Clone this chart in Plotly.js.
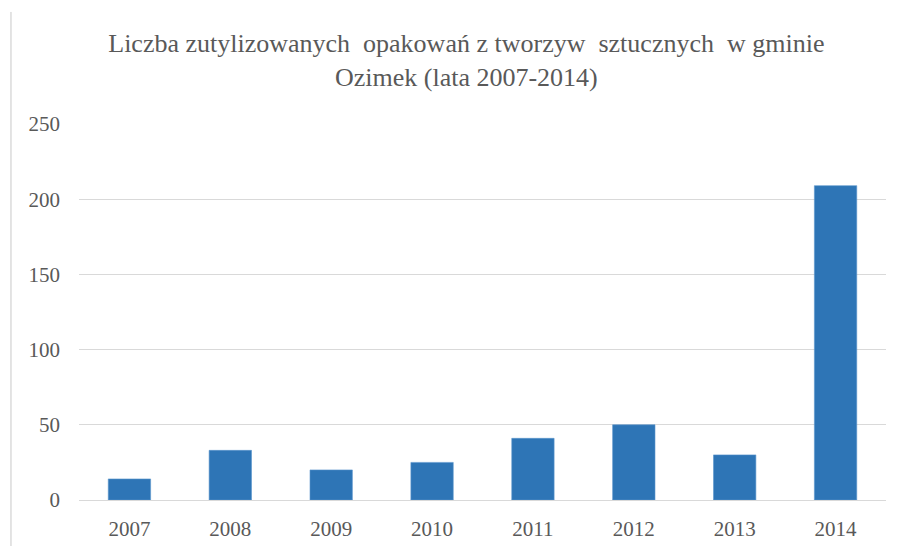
<!DOCTYPE html>
<html><head><meta charset="utf-8">
<script src="https://cdn.plot.ly/plotly-3.0.1.min.js"></script>
<style>html,body{margin:0;padding:0;background:#fff}#chart{width:902px;height:546px}</style>
</head><body><div id="chart"></div>
<script>
const years = ["2007","2008","2009","2010","2011","2012","2013","2014"];
const values = [14, 33, 20, 25, 41, 50, 30, 209];
const yTicks = [0, 50, 100, 150, 200, 250];
const titleText = "Liczba zutylizowanych  opakowań z tworzyw  sztucznych  w gminie<br>Ozimek (lata 2007-2014)";

const serif = "Liberation Serif, Times New Roman, serif";
Plotly.newPlot('chart', [{
  type: 'bar', x: years, y: values,
  marker: {color: '#2E75B6', line: {color: '#5b95cc', width: 0.6}},
  hoverinfo: 'x+y'
}], {
  width: 902, height: 546,
  margin: {l: 79, r: 16, t: 124, b: 46},
  paper_bgcolor: '#fff', plot_bgcolor: '#fff',
  bargap: 0.58,
  showlegend: false,
  title: {text: titleText, font: {family: serif, size: 26, color: '#595959'},
          x: 0.48, xref: 'paper', xanchor: 'center', y: 0.905, yref: 'container', yanchor: 'middle'},
  xaxis: {tickfont: {family: serif, size: 21, color: '#595959'}, showgrid: false, zeroline: false,
          showline: false, ticks: '', ticklabelstandoff: 14, fixedrange: true},
  yaxis: {range: [0, 250], tickvals: yTicks, ticktext: yTicks.map(String),
          tickfont: {family: serif, size: 21, color: '#595959'},
          gridcolor: '#d9d9d9', gridwidth: 1, zeroline: true, zerolinecolor: '#d9d9d9', zerolinewidth: 1,
          showline: false, ticks: '', ticklabelstandoff: 18, fixedrange: true},
  shapes: [{type: 'line', xref: 'paper', yref: 'paper', x0: -0.0843, x1: -0.0843, y0: 1.298, y1: -0.13,
            line: {color: '#c8c8c8', width: 1}}]
}, {displayModeBar: false, staticPlot: true});
</script></body></html>
